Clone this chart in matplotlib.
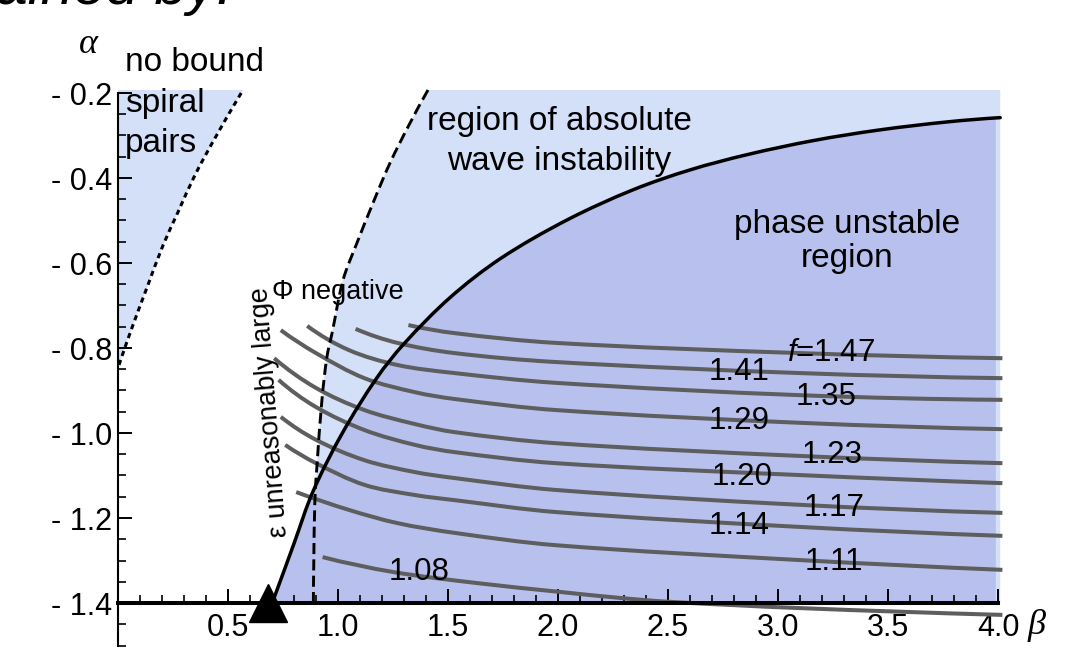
import numpy as np
import matplotlib
matplotlib.use("Agg")
import matplotlib.pyplot as plt
from matplotlib.path import Path
from matplotlib.patches import PathPatch
from matplotlib.ticker import FixedLocator, FixedFormatter

plt.rcParams["font.family"] = ["Liberation Sans", "DejaVu Sans"]
plt.rcParams["mathtext.fontset"] = "custom"
plt.rcParams["mathtext.rm"] = "Liberation Sans"
plt.rcParams["mathtext.it"] = "Liberation Sans:italic"

LIGHT = "#d4dff8"
DARK = "#b8c1ee"
GREY = "#5e5e5e"

# dotted boundary: no bound spiral pairs to the left of it
spiral_beta = [0.56, 0.441, 0.35, 0.273, 0.205, 0.136, 0.068, 0.009, 0.0]
spiral_alpha = [-0.20, -0.306, -0.393, -0.48, -0.558, -0.652, -0.746, -0.833, -0.85]

# dashed boundary: absolute wave instability to the right of it
absolute_beta = [1.409, 1.327, 1.236, 1.159, 1.086, 1.023, 0.973, 0.95, 0.927,
                 0.904, 0.895, 0.89, 0.888]
absolute_alpha = [-0.193, -0.271, -0.365, -0.459, -0.553, -0.64, -0.765, -0.82,
                  -0.922, -1.08, -1.158, -1.30, -1.41]

# solid boundary: phase unstable region below it
phase_beta = [0.70, 0.723, 0.80, 0.886, 1.02, 1.177, 1.30, 1.51, 1.74,
              2.04, 2.34, 2.60, 2.86, 3.16, 3.46, 3.77, 4.01]
phase_alpha = [-1.40, -1.369, -1.26, -1.138, -1.0, -0.87, -0.79, -0.681, -0.589,
               -0.499, -0.428, -0.381, -0.345, -0.312, -0.287, -0.268, -0.258]

# curves of constant f
f_levels = [1.47, 1.41, 1.35, 1.29, 1.23, 1.20, 1.17, 1.14, 1.11, 1.08]
f_beta = [
    [1.32, 1.53, 1.99, 3.10, 4.02],
    [1.08, 1.27, 1.53, 1.99, 3.10, 4.02],
    [0.86, 1.05, 1.27, 1.53, 1.99, 3.10, 4.02],
    [0.74, 0.90, 1.12, 1.35, 1.53, 1.99, 3.10, 4.02],
    [0.71, 0.90, 1.12, 1.35, 1.53, 1.99, 3.10, 4.02],
    [0.73, 0.90, 1.12, 1.35, 1.53, 1.99, 3.10, 4.02],
    [0.74, 0.90, 1.12, 1.35, 1.53, 1.99, 3.10, 4.02],
    [0.76, 0.90, 1.12, 1.35, 1.53, 1.99, 3.10, 4.02],
    [0.81, 1.05, 1.27, 1.53, 1.99, 3.10, 4.02],
    [0.93, 1.25, 1.63, 2.01, 2.28, 2.50, 3.10, 4.02],
]
f_alpha = [
    [-0.746, -0.765, -0.788, -0.812, -0.824],
    [-0.755, -0.788, -0.812, -0.833, -0.859, -0.871],
    [-0.748, -0.805, -0.84, -0.859, -0.882, -0.911, -0.922],
    [-0.758, -0.812, -0.871, -0.904, -0.92, -0.946, -0.976, -0.991],
    [-0.824, -0.894, -0.946, -0.979, -0.998, -1.024, -1.054, -1.071],
    [-0.875, -0.939, -0.993, -1.028, -1.045, -1.071, -1.099, -1.118],
    [-0.962, -1.016, -1.064, -1.092, -1.106, -1.134, -1.169, -1.188],
    [-1.028, -1.071, -1.122, -1.146, -1.158, -1.186, -1.221, -1.242],
    [-1.139, -1.181, -1.212, -1.235, -1.264, -1.299, -1.322],
    [-1.292, -1.327, -1.353, -1.374, -1.388, -1.397, -1.412, -1.428],
]
label_beta = [3.24, 2.823, 3.218, 2.823, 3.245, 2.836, 3.255, 2.823, 3.255, 1.368]
label_alpha = [-0.812, -0.856, -0.915, -0.972, -1.052, -1.104, -1.176, -1.219, -1.304, -1.327]

triangle_beta = 0.68

x_ticks = [0.5, 1.0, 1.5, 2.0, 2.5, 3.0, 3.5, 4.0]
x_tick_labels = ["0.5", "1.0", "1.5", "2.0", "2.5", "3.0", "3.5", "4.0"]
y_ticks = [-0.2, -0.4, -0.6, -0.8, -1.0, -1.2, -1.4]
y_tick_labels = ["- 0.2", "- 0.4", "- 0.6", "- 0.8", "- 1.0", "- 1.2", "- 1.4"]

# beta/alpha aspect used when shaping the curves (screen units per data unit)
SX, SY = 220.0, 425.0


def smooth(bs, als):
    """Bezier path through the given points (Catmull-Rom style tangents)."""
    p = np.column_stack([np.asarray(bs) * SX, np.asarray(als) * SY])
    n = len(p)
    d = np.hypot(*np.diff(p, axis=0).T)
    m = np.zeros_like(p)
    for i in range(1, n - 1):
        m[i] = (p[i + 1] - p[i - 1]) / (d[i - 1] + d[i])
    m[0] = 2 * (p[1] - p[0]) / d[0] - m[1]
    m[-1] = 2 * (p[-1] - p[-2]) / d[-1] - m[-2]
    verts = [p[0]]
    codes = [Path.MOVETO]
    for i in range(n - 1):
        verts += [p[i] + m[i] * d[i] / 3, p[i + 1] - m[i + 1] * d[i] / 3, p[i + 1]]
        codes += [Path.CURVE4] * 3
    verts = np.array(verts) / [SX, SY]
    return verts, codes


def region(parts):
    """Closed path from a list of smooth segments and corner points."""
    verts, codes = [], []
    for part in parts:
        if isinstance(part, tuple) and len(part) == 2 and isinstance(part[1], list):
            v, c = part
            verts += list(v)
            codes += ([Path.LINETO] if codes else [Path.MOVETO]) + c[1:]
        else:
            verts.append(part)
            codes.append(Path.LINETO if codes else Path.MOVETO)
    verts.append(verts[0])
    codes.append(Path.CLOSEPOLY)
    return Path(verts, codes)


fig = plt.figure(figsize=(10.76, 6.49), dpi=100)
ax = fig.add_axes([118 / 1076, 1 - 645.5 / 649, 902 / 1076, 561 / 649])
ax.set_xlim(0, 4.1)
ax.set_ylim(-1.5, -0.18)

spiral_path = smooth(spiral_beta, spiral_alpha)
absolute_path = smooth(absolute_beta, absolute_alpha)
phase_path = smooth(phase_beta, phase_alpha)

# shaded regions
ax.add_patch(PathPatch(region([(-0.015, -0.193), (0.57, -0.193), spiral_path,
                               (-0.015, -0.85)]),
                       facecolor=LIGHT, lw=0, zorder=0.5))
ax.add_patch(PathPatch(region([(1.409, -0.193), absolute_path, (0.888, -1.40),
                               (4.01, -1.40), (4.01, -0.193)]),
                       facecolor=LIGHT, lw=0, zorder=0.6))
ax.add_patch(PathPatch(region([phase_path, (3.99, -0.258), (3.99, -1.40)]),
                       facecolor=DARK, lw=0, zorder=0.7))

# boundaries
ax.add_patch(PathPatch(Path(*spiral_path), facecolor="none", edgecolor="black",
                       lw=2.2, linestyle=(0, (1.7, 1.4)), zorder=3))
ax.add_patch(PathPatch(Path(*absolute_path), facecolor="none", edgecolor="black",
                       lw=2.1, linestyle=(0, (3.8, 1.8)), zorder=3))
ax.add_patch(PathPatch(Path(*phase_path), facecolor="none", edgecolor="black",
                       lw=2.5, capstyle="round", zorder=3))

for b, a in zip(f_beta, f_alpha):
    ax.add_patch(PathPatch(Path(*smooth(b, a)), facecolor="none", edgecolor=GREY,
                           lw=2.9, capstyle="butt", zorder=2))

for i, (lv, b, a) in enumerate(zip(f_levels, label_beta, label_alpha)):
    txt = f"$f$={lv:.2f}" if i == 0 else f"{lv:.2f}"
    ax.text(b, a, txt, fontsize=22.5, ha="center", va="center", zorder=5)

ax.plot([triangle_beta], [-1.40], marker="^", markersize=27, color="black",
        clip_on=False, zorder=6)

# region annotations
ax.text(0.032, -0.148, "no bound", fontsize=24, va="baseline")
ax.text(0.032, -0.245, "spiral", fontsize=24, va="baseline")
ax.text(0.032, -0.339, "pairs", fontsize=24, va="baseline")
ax.text(2.005, -0.287, "region of absolute", fontsize=24, ha="center", va="baseline")
ax.text(2.005, -0.381, "wave instability", fontsize=24, ha="center", va="baseline")
ax.text(3.314, -0.529, "phase unstable", fontsize=24, ha="center", va="baseline")
ax.text(3.314, -0.609, "region", fontsize=24, ha="center", va="baseline")
ax.text(0.70, -0.685, "Φ negative", fontsize=19.5, va="baseline")
ax.text(0.69, -0.951, "ε unreasonably large", fontsize=19.5, rotation=94.5,
        rotation_mode="anchor", ha="center", va="center")

# axes labels
ax.text(-0.136, -0.087, "α", fontsize=26, family="Liberation Serif", style="italic",
        ha="center", va="center", clip_on=False)
ax.text(4.177, -1.452, "β", fontsize=26, family="Liberation Serif", style="italic",
        ha="center", va="center", clip_on=False)

# heading above the plot, cut off by the top edge
fig.text(232 / 1076, 1 - 4 / 649, "explained by:", fontsize=42, style="italic",
         ha="right", va="baseline")

# axis lines
for s in ("top", "right"):
    ax.spines[s].set_visible(False)
ax.spines["left"].set_bounds(-1.5, -0.2)
ax.spines["left"].set_linewidth(1.5)
ax.spines["bottom"].set_position(("data", -1.40))
ax.spines["bottom"].set_bounds(0, 4.0)
ax.spines["bottom"].set_linewidth(2.9)
ax.spines["bottom"].set_zorder(4)

ax.xaxis.set_major_locator(FixedLocator(x_ticks))
ax.xaxis.set_major_formatter(FixedFormatter(x_tick_labels))
ax.xaxis.set_minor_locator(FixedLocator(np.arange(0.1, 4.0, 0.1)))
ax.yaxis.set_major_locator(FixedLocator(y_ticks))
ax.yaxis.set_major_formatter(FixedFormatter(y_tick_labels))
ax.yaxis.set_minor_locator(FixedLocator(np.arange(-1.5, -0.2, 0.05)))

ax.tick_params(which="major", direction="in", length=10, width=1.4, labelsize=22)
ax.tick_params(which="minor", direction="in", length=6, width=1.2)
ax.tick_params(axis="x", which="major", pad=7)
ax.tick_params(axis="y", which="major", pad=4)

fig.savefig("out.png", dpi=100)
